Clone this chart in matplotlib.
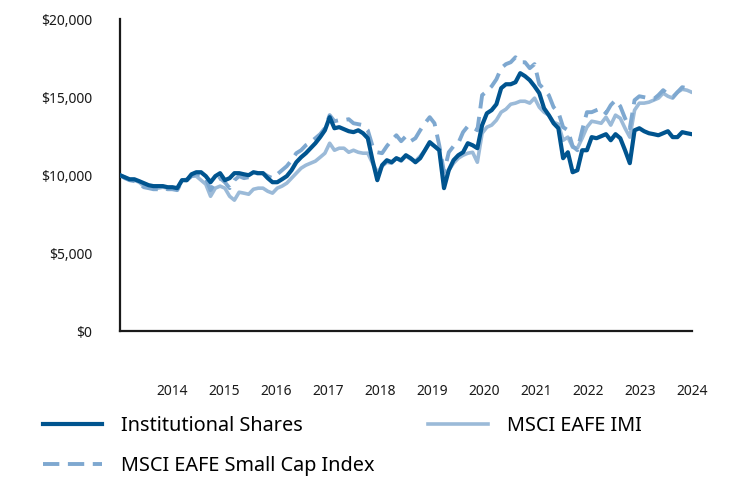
import numpy as np
import matplotlib
matplotlib.use("Agg")
import matplotlib.pyplot as plt
from matplotlib.ticker import FuncFormatter

plt.rcParams['font.family'] = ['Noto Sans', 'DejaVu Sans']

# growth of $10,000, monthly
institutional = [
    10000, 9870, 9740, 9740, 9620, 9490, 9360, 9300, 9300, 9300, 9230, 9230, 9170,
    9680, 9680, 10060, 10190, 10190, 9940, 9550, 9940, 10130, 9680, 9810, 10130,
    10130, 10060, 10000, 10190, 10130, 10130, 9810, 9550, 9550, 9740, 9940, 10320,
    10830, 11150, 11410, 11730, 12050, 12440, 12880, 13720, 13010, 13080, 12950, 12820,
    12760, 12880, 12690, 12370, 10960, 9680, 10640, 10960, 10830, 11090, 10960, 11280,
    11090, 10830, 11090, 11600, 12120, 11860, 11600, 9170, 10320, 10960, 11280, 11470,
    12050, 11920, 11730, 13210, 13970, 14170, 14550, 15580, 15830, 15830, 15960, 16540,
    16350, 16090, 15700, 15260, 14290, 13850, 13330, 13010, 11090, 11470, 10190, 10320,
    11600, 11600, 12440, 12370, 12500, 12630, 12240, 12630, 12370, 11600, 10770, 12880,
    13010, 12820, 12690, 12630, 12560, 12690, 12820, 12440, 12440, 12760, 12690, 12630,
]
eafe_imi = [
    10000, 9870, 9680, 9680, 9550, 9300, 9230, 9170, 9170, 9230, 9170, 9100, 9100,
    9680, 9740, 9940, 9940, 9680, 9420, 8650, 9170, 9300, 9170, 8650, 8400,
    8910, 8850, 8780, 9100, 9170, 9170, 8970, 8850, 9170, 9300, 9490, 9810,
    10130, 10450, 10640, 10770, 10900, 11150, 11410, 12050, 11600, 11730, 11730, 11470,
    11600, 11470, 11410, 11410, 10770, 10190, 10580, 10830, 10770, 11090, 10900, 11220,
    11030, 10900, 11220, 11600, 12050, 11860, 11730, 9550, 10320, 10770, 11090, 11280,
    11410, 11470, 10830, 12690, 13080, 13210, 13530, 14040, 14230, 14550, 14620, 14740,
    14740, 14620, 14940, 14360, 14040, 13850, 13400, 13270, 12240, 12440, 11790, 11730,
    12370, 13080, 13460, 13400, 13330, 13720, 13210, 13850, 13650, 13010, 12440, 14170,
    14620, 14620, 14680, 14810, 14940, 15260, 15060, 14940, 15320, 15510, 15450, 15320,
]
eafe_small_cap = [
    10000, 9810, 9680, 9620, 9490, 9230, 9170, 9100, 9100, 9170, 9100, 9100, 9040,
    9620, 9680, 9940, 10060, 10000, 9810, 9040, 9550, 9810, 9550, 9170, 9680,
    9940, 9810, 9870, 10060, 10130, 10130, 9940, 9810, 10060, 10320, 10580, 10960,
    11410, 11600, 11920, 12120, 12370, 12630, 13010, 13850, 13460, 13530, 13530, 13590,
    13330, 13270, 13210, 12880, 11860, 11470, 11410, 11860, 12240, 12560, 12180, 12500,
    12180, 12370, 12880, 13330, 13720, 13330, 11920, 10190, 11470, 11860, 12050, 12760,
    13140, 13080, 12880, 15130, 15380, 15700, 16150, 16860, 17120, 17240, 17560, 17240,
    17240, 16860, 17120, 15830, 15510, 15130, 14360, 14040, 13080, 12880, 11860, 11600,
    12880, 14040, 14040, 14170, 14290, 13970, 14490, 14810, 14420, 13650, 13010, 14810,
    15060, 15000, 14940, 14870, 15130, 15450, 15190, 15000, 15320, 15640, 15580, 15320,
]
year_labels = ['2014', '2015', '2016', '2017', '2018', '2019', '2020', '2021', '2022', '2023', '2024']

dark_blue = '#00548f'
light_blue = '#9bbad8'
mid_blue = '#7ea8d0'

months = np.arange(len(institutional))

fig = plt.figure(figsize=(7.32, 4.80), dpi=100)
ax = fig.add_axes([0.164, 0.31, 0.781, 0.65])

ax.plot(months, eafe_imi, color=light_blue, lw=2.6, label='MSCI EAFE IMI', zorder=2)
ax.plot(months, eafe_small_cap, color=mid_blue, lw=2.8, ls=(0, (4.2, 2.2)),
        label='MSCI EAFE Small Cap Index', zorder=3)
ax.plot(months, institutional, color=dark_blue, lw=3.0, label='Institutional Shares', zorder=4)

ax.set_xlim(0, len(months) - 1)
ax.set_ylim(0, 20000)
ax.set_yticks([0, 5000, 10000, 15000, 20000])
ax.yaxis.set_major_formatter(FuncFormatter(lambda v, p: '${:,.0f}'.format(v)))
step = (len(months) - 1) / len(year_labels)
ax.set_xticks([step * (k + 1) for k in range(len(year_labels))])
ax.set_xticklabels(year_labels)

for s in ['top', 'right']:
    ax.spines[s].set_visible(False)
for s in ['left', 'bottom']:
    ax.spines[s].set_linewidth(1.6)
    ax.spines[s].set_color('#1a1a1a')
ax.tick_params(axis='y', length=0, pad=20, labelsize=10, colors='#1a1a1a')
ax.tick_params(axis='x', length=0, pad=38, labelsize=10, colors='#1a1a1a')

h, l = ax.get_legend_handles_labels()
order = [2, 1, 0]
fig.legend([h[i] for i in order], [l[i] for i in order], ncol=2, loc='upper left',
           bbox_to_anchor=(0.034, 0.17), frameon=False, fontsize=14.3,
           handlelength=3.0, handletextpad=0.95, columnspacing=2.7, labelspacing=1.0)

fig.savefig('out.png', dpi=100)
